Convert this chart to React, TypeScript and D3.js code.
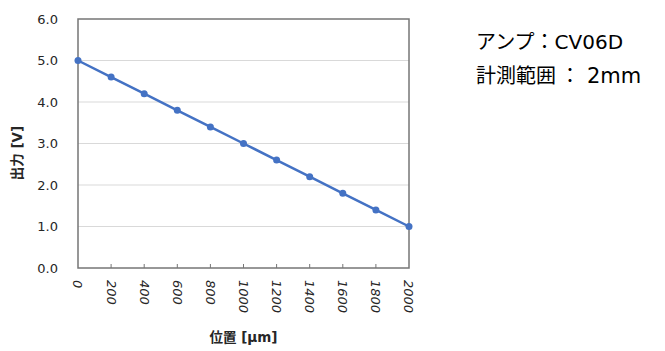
import React from 'react';
import * as d3 from 'd3';

const positions = [0, 200, 400, 600, 800, 1000, 1200, 1400, 1600, 1800, 2000];
const outputs = [5.0, 4.6, 4.2, 3.8, 3.4, 3.0, 2.6, 2.2, 1.8, 1.4, 1.0];
const yTicks = [0, 1, 2, 3, 4, 5, 6];
const xTitle = '位置 [μm]';
const yTitle = '出力 [V]';
// label, separator, value
const notes = [
  ['アンプ', '：', 'CV06D'],
  ['計測範囲', '：', '2mm'],
];

export default function App() {
  const width = 665, height = 351;
  const margin = { top: 19, right: 256, bottom: 83, left: 78 };
  const innerW = width - margin.left - margin.right;
  const innerH = height - margin.top - margin.bottom;

  const x = d3.scaleLinear().domain([0, 2000]).range([0, innerW]);
  const y = d3.scaleLinear().domain([0, 6]).range([innerH, 0]);
  const line = d3.line<number>()
    .x((_, i) => x(positions[i]))
    .y(d => y(d));

  const tickFont = "'DejaVu Sans', Verdana, sans-serif";
  const titleFont = "'DejaVu Sans', 'Noto Sans CJK JP', sans-serif";
  const cjkFont = "'Noto Sans CJK JP', sans-serif";

  return (
    <svg width={width} height={height}
      style={{ position: 'absolute', left: 0, top: 0, background: '#fff' }}>
      <g transform={`translate(${margin.left},${margin.top})`}>
        {yTicks.map(t => (
          <g key={t}>
            {t > 0 && t < 6 && (
              <line x1={0} x2={innerW} y1={y(t)} y2={y(t)} stroke="#d9d9d9" strokeWidth={1} />
            )}
            <text x={-20} y={y(t)} dy="0.35em" textAnchor="end"
              style={{ fontFamily: tickFont, fontSize: 13 }} fill="#262626">
              {d3.format('.1f')(t)}
            </text>
          </g>
        ))}
        <rect x={0} y={0} width={innerW} height={innerH} fill="none" stroke="#767676" strokeWidth={1.5} />
        {positions.map(p => (
          <g key={p} transform={`translate(${x(p)},0)`}>
            {p > 0 && p < 2000 && (
              <line y1={innerH} y2={innerH - 4} stroke="#767676" strokeWidth={1} />
            )}
            <text transform={`translate(0,${innerH + 12}) rotate(90)`} dy="0.35em"
              style={{ fontFamily: tickFont, fontSize: 13, fontStyle: 'italic' }} fill="#262626">
              {p}
            </text>
          </g>
        ))}
        <path d={line(outputs) ?? ''} fill="none" stroke="#4472c4" strokeWidth={2.5} />
        {outputs.map((v, i) => (
          <circle key={i} cx={x(positions[i])} cy={y(v)} r={3.5} fill="#4472c4" />
        ))}
        <text x={innerW / 2} y={innerH + 74} textAnchor="middle"
          style={{ fontFamily: titleFont, fontWeight: 'bold', fontSize: 13.5 }} fill="#262626">
          {xTitle}
        </text>
        <text transform={`translate(${-61},${134}) rotate(-90)`} textAnchor="middle" dy="0.35em"
          style={{ fontFamily: titleFont, fontWeight: 'bold', fontSize: 13.5 }} fill="#262626">
          {yTitle}
        </text>
      </g>
      {notes.map(([label, sep, value], i) => (
        <text key={label} x={476} y={49 + i * 34} fill="#000" style={{ fontSize: 20 }}>
          <tspan style={{ fontFamily: cjkFont }}>{label}</tspan>
          <tspan dx={i === 1 ? 4 : 0} style={{ fontFamily: cjkFont }}>{sep}</tspan>
          <tspan dx={i === 1 ? 7 : 0} style={{ fontFamily: tickFont, fontSize: i === 1 ? 21 : 20 }}>{value}</tspan>
        </text>
      ))}
    </svg>
  );
}
